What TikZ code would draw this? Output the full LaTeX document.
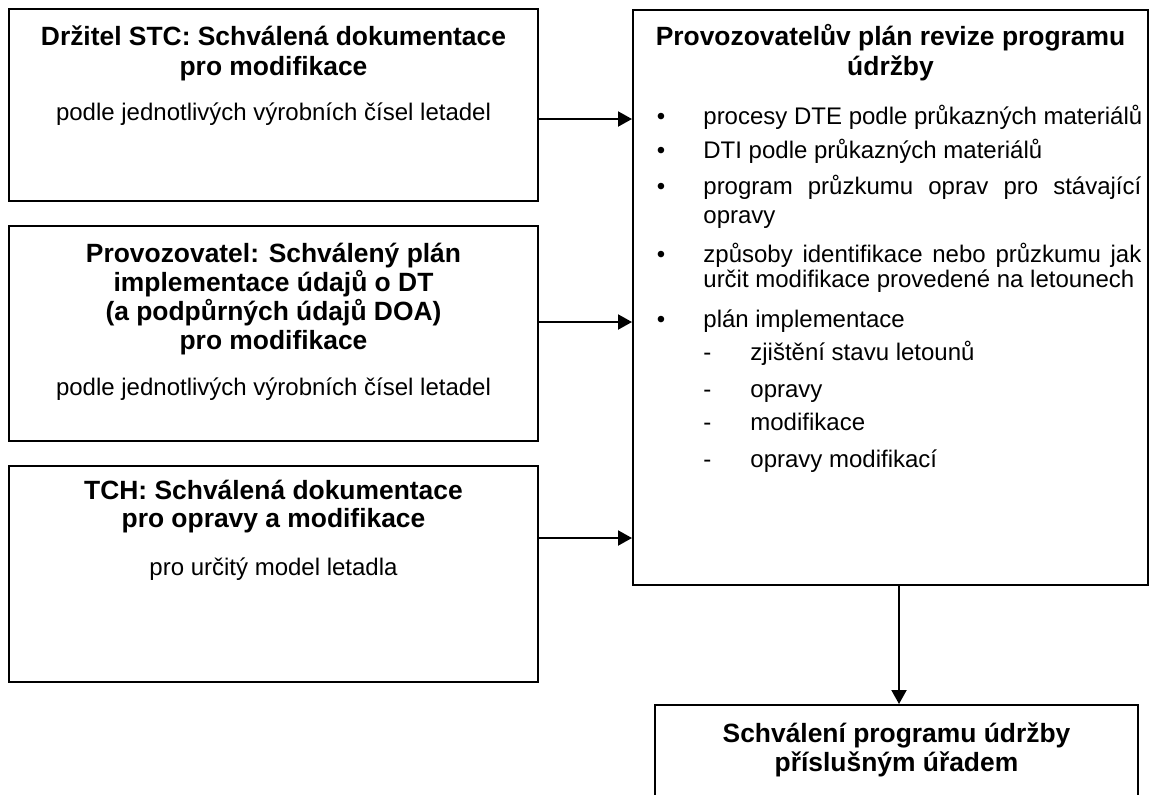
\documentclass[tikz,border=0pt]{standalone}
\usepackage{fontspec}
\setmainfont{Liberation Sans}
\usetikzlibrary{arrows.meta,fit}
\begin{document}
\begin{tikzpicture}[x=0.5pt,y=-0.5pt,
  box/.style={draw, line width=1pt, inner sep=0pt},
  ttl/.style={font=\fontsize{13.2}{15}\selectfont\bfseries, anchor=base, inner sep=0pt},
  txt/.style={font=\fontsize{12}{14}\selectfont, anchor=base, inner sep=0pt},
  itm/.style={txt, anchor=base west},
  bul/.style={txt},
  arr/.style={line width=1pt, -{Triangle[length=7pt,width=7.5pt]}}]
\useasboundingbox (0,0) rectangle (1155,794);
\clip (0,0) rectangle (1155,794);

% boxes
\node[box, fit={(9,9) (538,201)}] (b1) {};
\node[box, fit={(9,226) (538,441)}] (b2) {};
\node[box, fit={(9,466) (538,682)}] (b3) {};
\node[box, fit={(633,10) (1148,585)}] (rb) {};
\node[box, fit={(655,705) (1138,840)}] (bb) {};

% left box 1
\node[ttl] (t1a) at (273.5,45) {Držitel STC: Schválená dokumentace};
\node[ttl] (t1b) at (273.5,75) {pro modifikace};
\node[txt] (s1) at (273.5,120) {podle jednotlivých výrobních čísel letadel};

% left box 2
\node[ttl] (t2a) at (273.5,262) {Provozovatel: Schválený plán};
\node[ttl] (t2b) at (273.5,291) {implementace údajů o DT};
\node[ttl] (t2c) at (273.5,320) {(a podpůrných údajů DOA)};
\node[ttl] (t2d) at (273.5,349) {pro modifikace};
\node[txt] (s2) at (273.5,395) {podle jednotlivých výrobních čísel letadel};

% left box 3
\node[ttl] (t3a) at (273.5,499) {TCH: Schválená dokumentace};
\node[ttl] (t3b) at (273.5,527) {pro opravy a modifikace};
\node[txt] (s3) at (273.5,575) {pro určitý model letadla};

% right box
\node[ttl] (tra) at (890.5,45) {Provozovatelův plán revize programu};
\node[ttl] (trb) at (890.5,75) {údržby};

\node[bul] (p1) at (661,124) {\textbullet};
\node[itm] (i1) at (703,124) {procesy DTE podle průkazných materiálů};
\node[bul] (p2) at (661,158) {\textbullet};
\node[itm] (i2) at (703,158) {DTI podle průkazných materiálů};
\node[bul] (p3) at (661,194) {\textbullet};
\node[itm] (i3a) at (703,194) {\makebox[219pt][s]{program průzkumu oprav pro stávající}};
\node[itm] (i3b) at (703,223) {opravy};
\node[bul] (p4) at (661,262) {\textbullet};
\node[itm] (i4a) at (703,262) {\makebox[219pt][s]{způsoby identifikace nebo průzkumu jak}};
\node[itm] (i4b) at (703,287) {určit modifikace provedené na letounech};
\node[bul] (p5) at (661,327) {\textbullet};
\node[itm] (i5) at (703,327) {plán implementace};

\node[itm] (d1) at (703,360) {-};
\node[itm] (e1) at (750,360) {zjištění stavu letounů};
\node[itm] (d2) at (703,397) {-};
\node[itm] (e2) at (750,397) {opravy};
\node[itm] (d3) at (703,430) {-};
\node[itm] (e3) at (750,430) {modifikace};
\node[itm] (d4) at (703,467) {-};
\node[itm] (e4) at (750,467) {opravy modifikací};

% bottom box
\node[ttl] (tba) at (896.5,742) {Schválení programu údržby};
\node[ttl] (tbb) at (896.5,771) {příslušným úřadem};

% connectors
\coordinate (y1) at (0,119);
\coordinate (y2) at (0,322);
\coordinate (y3) at (0,538);
\coordinate (xv) at (899,0);
\draw[arr] (b1.east |- y1) -- (rb.west |- y1);
\draw[arr] (b2.east |- y2) -- (rb.west |- y2);
\draw[arr] (b3.east |- y3) -- (rb.west |- y3);
\draw[arr] (rb.south -| xv) -- (bb.north -| xv);
\end{tikzpicture}
\end{document}
